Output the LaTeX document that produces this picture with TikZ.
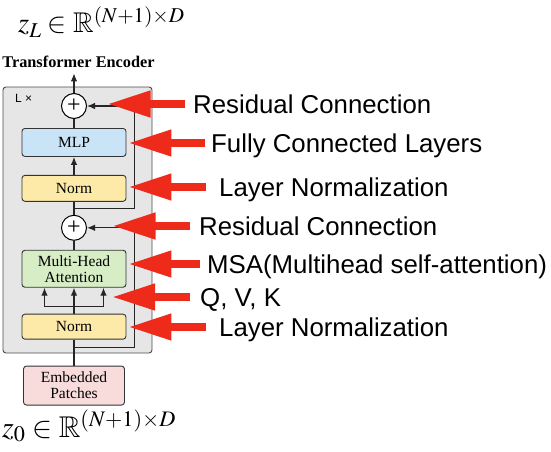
\documentclass[tikz,border=0pt]{standalone}
\usepackage{amssymb}
\usepackage{mathptmx}
\usepackage{fontspec}
\setmainfont{Liberation Serif}
\newfontfamily\labelfont{Liberation Sans}
\usetikzlibrary{arrows.meta,positioning,calc}

\definecolor{encgray}{HTML}{E6E6E6}
\definecolor{mlpblue}{HTML}{C9E4F6}
\definecolor{normyellow}{HTML}{FDEAA8}
\definecolor{attgreen}{HTML}{D6EDC5}
\definecolor{patchpink}{HTML}{F8DCDC}
\definecolor{markred}{HTML}{EE2A1A}

\begin{document}
\begin{tikzpicture}[
  x=1pt, y=-1pt,
  layer/.style={rectangle, rounded corners=3pt, draw=black!80, line width=0.9pt, align=center, minimum width=104pt, font=\fontsize{15.5}{16}\selectfont},
  addnode/.style={circle, draw=black, line width=1pt, fill=white, minimum size=25pt, inner sep=0pt, font=\fontsize{24}{24}\selectfont},
  line/.style={line width=1.2pt, black!85},
  arrow/.style={line, -{Latex[length=8pt,width=6.5pt]}},
  note/.style={anchor=west, inner sep=0pt, text height=18pt, text depth=0pt, font=\labelfont\fontsize{25.8}{30}\selectfont},
  hint/.style={line width=7.5pt, markred, -{Triangle[length=43pt,width=25pt]}}
]

\useasboundingbox (0,0) rectangle (551,452);

\node[rectangle, rounded corners=3pt, draw=black!70, line width=0.9pt, fill=encgray, minimum width=149pt, minimum height=266pt] (enc) at (77.5,220) {};
\node[anchor=north west, inner sep=0pt, font=\labelfont\fontsize{12}{12}\selectfont] (rep) at (15,94) {L ×};

\node[anchor=base west, inner sep=0pt, font=\fontsize{28.5}{34}\selectfont] (zout) at (18,33) {$z_L \in \mathbb{R}^{(N+1)\times D}$};
\node[anchor=base, inner sep=0pt, font=\bfseries\fontsize{16.3}{18}\selectfont] (title) at (78.5,67) {Transformer Encoder};

\node[addnode] (add1) at (74,106) {+};
\node[layer, fill=mlpblue, minimum height=28pt, below=9pt of add1] (mlp) {MLP};
\node[layer, fill=normyellow, minimum height=26pt, below=18pt of mlp] (norm1) {Norm};
\node[addnode, below=13pt of norm1] (add2) {+};
\node[layer, fill=attgreen, minimum height=37pt, below=9pt of add2] (mha) {Multi-Head\\Attention};
\node[layer, fill=normyellow, minimum height=25pt, below=26pt of mha] (norm2) {Norm};
\node[layer, fill=patchpink, minimum width=101pt, minimum height=39pt, below=26pt of norm2] (patches) {Embedded\\Patches};

\node[anchor=base west, inner sep=0pt, font=\fontsize{30}{36}\selectfont] (zin) at (2,437) {$z_0 \in \mathbb{R}^{(N+1)\times D}$};

% main path
\draw[arrow, shorten >=6pt] (add1.north) -- (add1.north |- title.south);
\draw[line] (mlp) -- (add1);
\draw[arrow] (norm1) -- (mlp);
\draw[line] (add2) -- (norm1);
\draw[line] (mha) -- (add2);
\draw[line] (patches) -- (norm2);

% q, k, v split
\coordinate (qkv) at ($(norm2.north)+(0,-7)$);
\coordinate (qkvl) at ($(qkv)+(-29.5,0)$);
\coordinate (qkvr) at ($(qkv)+(29.5,0)$);
\draw[line] (norm2) -- (qkv);
\draw[line] (qkvl) -- (qkvr);
\foreach \p in {qkvl,qkv,qkvr}
  \draw[arrow] (\p) -- (\p |- mha.south);

% residual connections
\coordinate (skip1) at ($(add2.north)!0.5!(norm1.south)$);
\coordinate (skip1r) at ($(skip1 -| norm1.east)+(8,0)$);
\draw[arrow] (skip1) -- (skip1r) |- (add1.east);
\coordinate (skip2) at ($(norm2.south)+(0,8)$);
\coordinate (skip2r) at (skip2 -| skip1r);
\draw[arrow] (skip2) -- (skip2r) |- (add2.east);

% annotations
\node[note] (n1) at (193,104) {Residual Connection};
\node[note] (n2) at (211,143) {Fully Connected Layers};
\node[note] (n3) at (219,187) {Layer Normalization};
\node[note] (n4) at (199,226) {Residual Connection};
\node[note] (n5) at (207,264) {MSA(Multihead self-attention)};
\node[note] (n6) at (200,297) {Q, V, K};
\node[note] (n7) at (219,327) {Layer Normalization};

\draw[hint, shorten <=8pt, shorten >=20.5pt] (n1.west) -- (n1.west -| add1.east);
\draw[hint, shorten <=6pt, shorten >=2pt] (n2.west) -- (n2.west -| mlp.east);
\draw[hint, shorten <=13pt, shorten >=2pt] (n3.west) -- (n3.west -| norm1.east);
\draw[hint, shorten <=9pt, shorten >=25.5pt] (n4.west) -- (n4.west -| add2.east);
\draw[hint, shorten <=7pt, shorten >=2pt] (n5.west) -- (n5.west -| mha.east);
\draw[hint, shorten <=10pt, shorten >=8.5pt] (n6.west) -- (n6.west -| qkvr);
\draw[hint, shorten <=13pt, shorten >=2pt] (n7.west) -- (n7.west -| norm2.east);

\end{tikzpicture}
\end{document}
